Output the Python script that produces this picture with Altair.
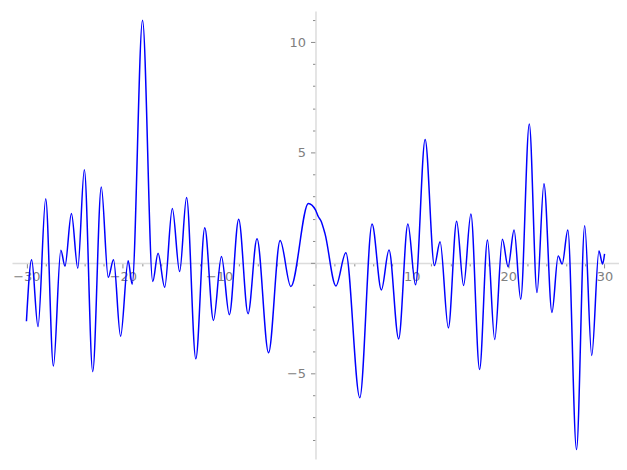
import altair as alt
import pandas as pd

# Curve samples (extrema and shape points)
xs = [-30.0, -29.46, -28.8, -28.0, -27.2, -26.43, -26.0, -25.33, -24.67, -23.99,
      -23.12, -22.23, -21.51, -20.96, -20.23, -19.44, -19.03, -17.95, -16.89, -16.34,
      -15.65, -14.86, -14.1, -13.38, -12.42, -11.49, -10.59, -9.76, -8.94, -7.97,
      -7.0, -6.07, -4.87, -3.67, -2.56, -0.74, 0.0, 0.3, 0.55, 0.98,
      2.12, 3.15, 4.6, 5.87, 6.84, 7.63, 8.63, 9.59, 10.38, 11.38,
      12.34, 12.93, 13.79, 14.65, 15.37, 16.13, 17.03, 17.85, 18.6, 19.4,
      19.99, 20.61, 21.3, 22.19, 22.99, 23.71, 24.54, 25.19, 25.6, 26.19,
      27.09, 27.94, 28.67, 29.42, 29.8, 30.0]
ys = [-2.64, 0.14, -2.88, 2.91, -4.67, 0.58, -0.14, 2.24, -0.24, 4.22,
      -4.92, 3.44, -0.65, 0.14, -3.32, 0.10, -0.96, 10.99, -0.84, 0.44,
      -1.10, 2.46, -0.39, 2.96, -4.34, 1.59, -2.60, 0.29, -2.34, 1.98,
      -2.30, 1.10, -4.07, 1.02, -1.07, 2.69, 2.40, 2.09, 1.92, 1.34,
      -1.04, 0.46, -6.1, 1.76, -1.22, 0.59, -3.44, 1.76, -0.99, 5.59,
      -0.12, 0.96, -2.94, 1.89, -1.02, 2.21, -4.82, 1.04, -3.47, 1.07,
      -0.17, 1.49, -1.64, 6.29, -1.34, 3.59, -2.24, 0.32, -0.05, 1.49,
      -8.45, 1.68, -4.19, 0.54, -0.05, 0.41]

x_ticks = list(range(-30, 31, 2))
y_ticks = list(range(-8, 12))
X_DOMAIN = [-31.5, 31.5]
Y_DOMAIN = [-8.87, 11.4]
W, H = 610, 450

df = pd.DataFrame({"x": xs, "y": ys})

x_axis_offset = -(H * (0 - Y_DOMAIN[0]) / (Y_DOMAIN[1] - Y_DOMAIN[0]))
y_axis_offset = -(W * (0 - X_DOMAIN[0]) / (X_DOMAIN[1] - X_DOMAIN[0]))

common = dict(
    grid=False,
    domainColor="#dcdcdc",
    domainWidth=1.5,
    tickColor="#8a8a8a",
    tickWidth=1,
    labelColor="#808080",
    labelFont="DejaVu Sans",
    labelFontSize=13,
    labelOverlap=False,
    labelFlush=False,
    format="d",
    title=None,
)

chart = alt.Chart(df).mark_line(
    color="#0000ff", strokeWidth=1.5, interpolate="monotone"
).encode(
    x=alt.X("x:Q", scale=alt.Scale(domain=X_DOMAIN, nice=False, zero=False),
            axis=alt.Axis(values=x_ticks, offset=x_axis_offset, labelPadding=3,
                          labelExpr="datum.value % 10 === 0 && datum.value !== 0 ? datum.label : ''",
                          tickSize={"condition": {"test": "datum.value % 10 === 0", "value": 5}, "value": 3},
                          **common)),
    y=alt.Y("y:Q", scale=alt.Scale(domain=Y_DOMAIN, nice=False, zero=False),
            axis=alt.Axis(values=y_ticks, offset=y_axis_offset, labelPadding=5,
                          labelExpr="datum.value % 5 === 0 && datum.value !== 0 ? datum.label : ''",
                          tickSize={"condition": {"test": "datum.value % 5 === 0", "value": 5}, "value": 3},
                          **common)),
    order="x:Q",
).properties(
    width=W, height=H,
    autosize=alt.AutoSizeParams(type="none"),
    padding={"left": 4, "top": 2, "right": 0, "bottom": 0},
).configure_view(stroke=None)

chart.save("out.html", embed_options={"renderer": "svg", "actions": False})
